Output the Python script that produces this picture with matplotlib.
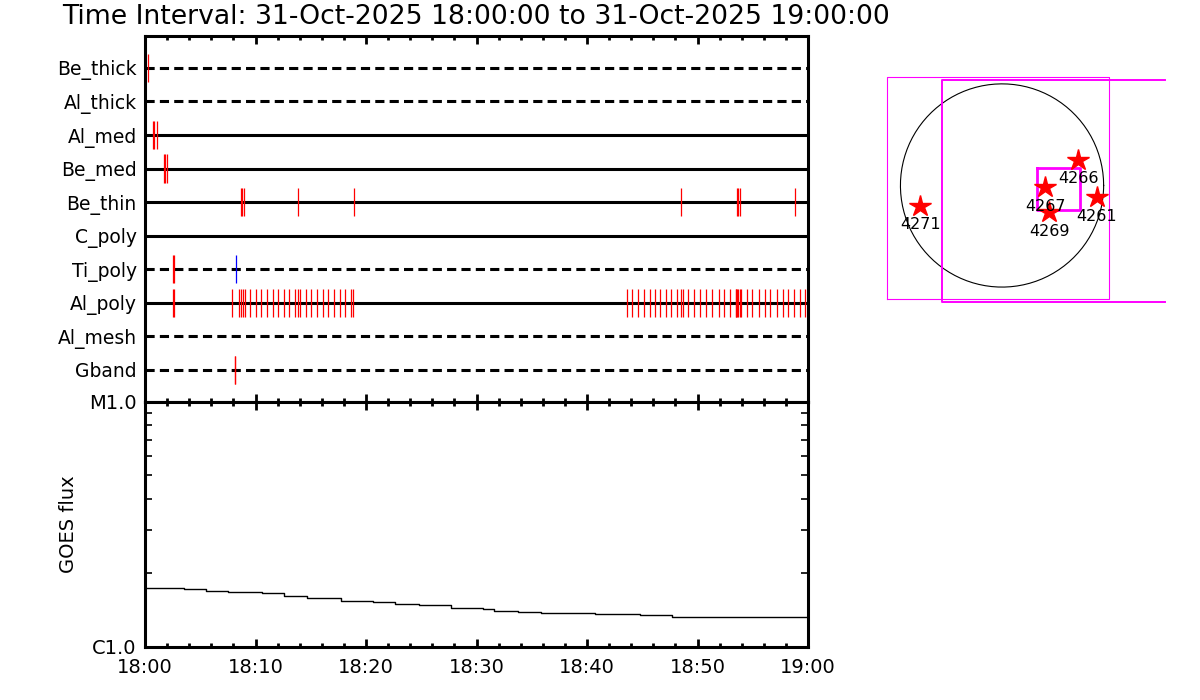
import numpy as np
import matplotlib
matplotlib.use('Agg')
import matplotlib.pyplot as plt
from matplotlib.ticker import FixedLocator, FixedFormatter, NullFormatter, MultipleLocator

# детекторы (сверху вниз)
rows = ['Be_thick', 'Al_thick', 'Al_med', 'Be_med', 'Be_thin',
        'C_poly', 'Ti_poly', 'Al_poly', 'Al_mesh', 'Gband']
dashed = ['Be_thick', 'Al_thick', 'Ti_poly', 'Al_mesh', 'Gband']

# моменты событий, минуты после 18:00
ev_be_thick = [0.28]
ev_al_med = [0.74, 0.82, 1.09]
ev_be_med = [1.74, 1.82, 2.02]
ev_be_thin = [8.72, 8.80, 8.99, 13.88, 18.94, 48.54, 53.60, 53.70, 53.87, 58.85]
ev_ti_poly = [2.56, 2.64]
ev_ti_poly_blue = [8.27]
ev_al_poly = [2.56, 2.64, 7.90, 8.54, 8.66, 8.84, 9.05, 9.53, 10.08, 10.53, 11.04,
              11.55, 12.07, 12.58, 13.06, 13.55, 13.88, 14.06, 14.57, 15.05, 15.59,
              16.08, 16.59, 17.10, 17.62, 18.13, 18.61, 18.85,
              43.65, 44.10, 44.64, 45.16, 45.70, 46.18, 46.64, 47.18, 47.63, 48.12,
              48.54, 48.72, 49.17, 49.68, 50.25, 50.77, 51.34, 51.92, 52.43, 52.97,
              53.46, 53.52, 53.58, 53.64, 53.82, 53.96, 54.45, 54.96, 55.57, 56.11,
              56.59, 57.19, 57.71, 58.22, 58.76, 59.28, 59.73]
ev_gband = [8.10, 8.18]
events = {'Be_thick': ev_be_thick, 'Al_med': ev_al_med, 'Be_med': ev_be_med,
          'Be_thin': ev_be_thin, 'Ti_poly': ev_ti_poly, 'Al_poly': ev_al_poly,
          'Gband': ev_gband}

# поток GOES
goes_t = [0, 3.5, 5.5, 7.5, 10.6, 12.6, 14.7, 17.7, 20.6, 22.6, 24.8, 27.7,
          30.6, 31.6, 33.8, 35.8, 37.7, 40.7, 44.8, 47.7, 57.8, 60]
goes_flux = [1.746e-6, 1.720e-6, 1.697e-6, 1.672e-6, 1.657e-6, 1.620e-6, 1.585e-6,
             1.537e-6, 1.522e-6, 1.502e-6, 1.484e-6, 1.439e-6, 1.425e-6, 1.402e-6,
             1.393e-6, 1.380e-6, 1.373e-6, 1.360e-6, 1.347e-6, 1.329e-6, 1.322e-6,
             1.305e-6]

time_ticks = [0, 10, 20, 30, 40, 50, 60]
time_labels = ['18:00', '18:10', '18:20', '18:30', '18:40', '18:50', '19:00']

# активные области на карте Солнца (угл. сек.)
ar_names = ['4271', '4266', '4267', '4261', '4269']
ar_x = [-769, 797, 470, 978, 509]
ar_y = [-175, 280, 10, -93, -242]

fig = plt.figure(figsize=(12, 7), dpi=100)
fig.text(62 / 1200, 1 - 17 / 700,
         'Time Interval: 31-Oct-2025 18:00:00 to 31-Oct-2025 19:00:00',
         ha='left', va='center', fontsize=19.2)

# верхняя панель
ax1 = fig.add_axes([145 / 1200, 1 - 401.5 / 700, 663 / 1200, 365.5 / 700])
for i, name in enumerate(rows, start=1):
    ls = (0, (3, 1.7)) if name in dashed else '-'
    ax1.plot([0, 60], [i, i], color='black', lw=2.2, ls=ls)
    if name in events:
        ax1.vlines(events[name], i - 0.42, i + 0.42, color='red', lw=0.9, zorder=4)
ax1.vlines(ev_ti_poly_blue, 7 - 0.42, 7 + 0.42, color='blue', lw=0.9, zorder=4)
ax1.set_xlim(0, 60)
ax1.set_ylim(10.94, 0.05)
ax1.set_yticks(range(1, len(rows) + 1), rows, fontsize=13.5)
ax1.tick_params(axis='y', length=0, pad=6)
ax1.xaxis.set_major_locator(MultipleLocator(10))
ax1.xaxis.set_minor_locator(MultipleLocator(2))
ax1.tick_params(axis='x', which='both', direction='in', top=True, bottom=True,
                labelbottom=False, width=2)
ax1.tick_params(axis='x', which='major', length=6)
ax1.tick_params(axis='x', which='minor', length=3)
for s in ax1.spines.values():
    s.set_linewidth(2.2)
    s.set_zorder(3)

# нижняя панель
ax2 = fig.add_axes([145 / 1200, 1 - 647 / 700, 663 / 1200, 245.5 / 700])
ax2.plot(goes_t, goes_flux, color='black', lw=1, drawstyle='steps-post')
ax2.set_yscale('log')
ax2.set_xlim(0, 60)
ax2.set_ylim(1e-6, 1e-5)
ax2.yaxis.set_major_locator(FixedLocator([1e-6, 1e-5]))
ax2.yaxis.set_major_formatter(FixedFormatter(['C1.0', 'M1.0']))
ax2.yaxis.set_minor_formatter(NullFormatter())
ax2.tick_params(axis='y', which='both', direction='in', left=True, right=True,
                width=1.2, labelsize=14, pad=6)
ax2.tick_params(axis='y', which='minor', length=5)
ax2.set_ylabel('GOES flux', fontsize=14, labelpad=8)
ax2.set_xticks(time_ticks, time_labels, fontsize=14)
ax2.xaxis.set_minor_locator(MultipleLocator(2))
ax2.tick_params(axis='x', which='both', direction='in', top=True, bottom=True,
                width=2, pad=8)
ax2.tick_params(axis='x', which='major', length=6)
ax2.tick_params(axis='x', which='minor', length=3)
for s in ax2.spines.values():
    s.set_linewidth(2.2)

# карта Солнца
ax3 = fig.add_axes([887 / 1200, 1 - 299 / 700, 222 / 1200, 222 / 700])
ax3.set_xlim(-1100, 1100)
ax3.set_ylim(-1100, 1100)
ax3.axis('off')
ax3.plot([-1100, 1100, 1100, -1100, -1100], [-1100, -1100, 1100, 1100, -1100],
         color='magenta', lw=0.8, clip_on=False)
th = np.linspace(0, 2 * np.pi, 200)
ax3.plot(40 + 1007 * np.cos(th), 25 + 1007 * np.sin(th), color='black', lw=0.8)
ax3.plot([1655, -551, -551, 1655], [1070, 1070, -1130, -1130],
         color='magenta', lw=1.4, clip_on=False)
ax3.plot([390, 810, 810, 390, 390], [194, 194, -215, -215, 194],
         color='magenta', lw=2)
ax3.plot(ar_x, ar_y, ls='none', marker='*', ms=16, color='red', clip_on=False)
for nm, x, y in zip(ar_names, ar_x, ar_y):
    ax3.text(x, y - 190, nm, ha='center', va='center', fontsize=11.5)

fig.savefig('out.png', dpi=100)
